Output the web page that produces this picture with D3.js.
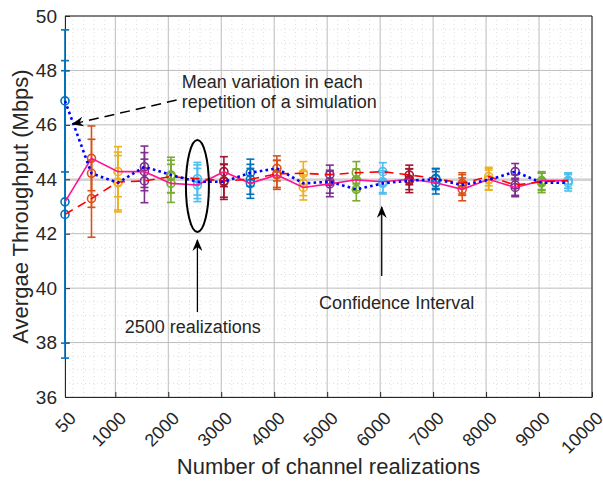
<!DOCTYPE html>
<html>
<head>
<meta charset="utf-8">
<script src="https://cdn.jsdelivr.net/npm/d3@7"></script>
<style>
  body { margin: 0; background: #fff; }
  svg { font-family: "Liberation Sans", Arial, Helvetica, sans-serif; }
</style>
</head>
<body>
<script>
// x positions (number of channel realizations)
const realizations = [50, 550, 1050, 1550, 2050, 2550, 3050, 3550, 4050, 4550, 5050, 5550, 6050, 6550, 7050, 7550, 8050, 8550, 9050, 9550];
// mean throughput of each repetition
const pinkMean = [43.17, 44.77, 44.28, 44.28, 43.85, 43.79, 44.28, 43.85, 44.16, 43.70, 43.83, 43.98, 43.91, 44.00, 43.87, 43.63, 44.00, 43.70, 43.95, 43.95];
const redMean  = [42.71, 43.29, 43.90, 43.94, 44.10, 44.02, 43.94, 44.00, 44.20, 44.22, 44.17, 44.24, 44.28, 44.16, 44.03, 43.85, 44.10, 43.79, 43.91, 43.95];
const blueMean = [46.88, 44.22, 43.87, 44.46, 44.16, 43.91, 43.91, 44.24, 44.40, 43.85, 43.91, 43.63, 43.85, 43.95, 44.00, 43.79, 43.98, 44.28, 43.87, 43.87];
// confidence interval half widths
const pinkCI = [5.19, 1.19, 0.92, 0.70, 0.70, 0.61, 0.55, 0.55, 0.53, 0.46, 0.47, 0.40, 0.40, 0.38, 0.41, 0.42, 0.40, 0.34, 0.33, 0.29];
const redCI  = [5.28, 1.42, 1.10, 0.80, 0.60, 0.60, 0.60, 0.55, 0.50, 0.43, 0.35, 0.41, 0.33, 0.36, 0.37, 0.39, 0.34, 0.38, 0.32, 0.28];
const blueCI = [2.61, 1.25, 1.00, 0.76, 0.65, 0.62, 0.65, 0.50, 0.46, 0.45, 0.42, 0.42, 0.39, 0.44, 0.38, 0.38, 0.36, 0.30, 0.36, 0.30];
const overallMean = 43.98;

const xTicks = [50, 1000, 2000, 3000, 4000, 5000, 6000, 7000, 8000, 9000, 10000];
const yTicks = [36, 38, 40, 42, 44, 46, 48, 50];
const groupColors = ["#0072BD", "#D95319", "#EDB120", "#7E2F8E", "#77AC30", "#4DBEEE", "#A2142F"];

const margin = {top: 16, right: 11, bottom: 90, left: 65},
    W = 603, H = 487,
    width = W - margin.left - margin.right,
    height = H - margin.top - margin.bottom;
const ink = "#262626";

const x = d3.scaleLinear().domain([50, 10000]).range([0, width]);
const y = d3.scaleLinear().domain([36, 50]).range([height, 0]);

const svg = d3.select("body").append("svg")
    .attr("width", W).attr("height", H);

const defs = svg.append("defs");
defs.append("marker")
    .attr("id", "head")
    .attr("viewBox", "0 0 12 10")
    .attr("refX", 11).attr("refY", 5)
    .attr("markerWidth", 12).attr("markerHeight", 10)
    .attr("markerUnits", "userSpaceOnUse")
    .attr("orient", "auto")
    .append("path")
    .attr("d", "M0,0 L12,5 L0,10 L4,5 Z")
    .attr("fill", "#000");

const g = svg.append("g")
    .attr("transform", "translate(" + margin.left + "," + margin.top + ")");

// minor grid
const minorX = d3.range(200, 10000, 200).filter(v => v % 1000 != 0);
const minorY = d3.range(36.5, 50, 0.5).filter(v => v % 2 != 0);
g.append("g").selectAll("line").data(minorX).enter().append("line")
    .attr("x1", d => x(d)).attr("x2", d => x(d))
    .attr("y1", 0).attr("y2", height)
    .attr("stroke", "#d6d6d6").attr("stroke-width", 0.8).attr("stroke-dasharray", "1,3");
g.append("g").selectAll("line").data(minorY).enter().append("line")
    .attr("x1", 0).attr("x2", width)
    .attr("y1", d => y(d)).attr("y2", d => y(d))
    .attr("stroke", "#d6d6d6").attr("stroke-width", 0.8).attr("stroke-dasharray", "1,3");

// major grid
g.append("g").selectAll("line").data(xTicks).enter().append("line")
    .attr("x1", d => x(d)).attr("x2", d => x(d))
    .attr("y1", 0).attr("y2", height)
    .attr("stroke", "#bcbcbc").attr("stroke-width", 1);
g.append("g").selectAll("line").data(yTicks).enter().append("line")
    .attr("x1", 0).attr("x2", width)
    .attr("y1", d => y(d)).attr("y2", d => y(d))
    .attr("stroke", "#bcbcbc").attr("stroke-width", 1);

// overall mean reference
g.append("line")
    .attr("x1", 0).attr("x2", width)
    .attr("y1", y(overallMean)).attr("y2", y(overallMean))
    .attr("stroke", "#d2d2d2").attr("stroke-width", 2.5);

// axes
const xAxis = d3.axisBottom(x).tickValues(xTicks).tickSize(-5).tickSizeOuter(0).tickFormat(d3.format("d"));
const yAxis = d3.axisLeft(y).tickValues(yTicks).tickSize(-5).tickSizeOuter(0);
const gx = g.append("g").attr("transform", "translate(0," + height + ")").call(xAxis);
const gy = g.append("g").call(yAxis);
gy.selectAll("text").attr("x", -8);
[gx, gy].forEach(a => {
    a.select(".domain").attr("stroke", ink);
    a.selectAll(".tick line").attr("stroke", ink);
    a.selectAll("text").attr("fill", ink).style("font-size", "19px");
});
gx.selectAll("text")
    .attr("text-anchor", "end")
    .attr("y", 0)
    .attr("transform", "translate(7,18) rotate(-45)")
    .attr("dy", "0.35em")
    .style("font-size", "18px");
// box top/right
g.append("line").attr("x1", 0).attr("x2", width).attr("y1", 0).attr("y2", 0).attr("stroke", ink);
g.append("line").attr("x1", width).attr("x2", width).attr("y1", 0).attr("y2", height).attr("stroke", ink);

// error bars
const series = [
    {mean: pinkMean, ci: pinkCI},
    {mean: redMean, ci: redCI},
    {mean: blueMean, ci: blueCI}
];
const bars = [];
series.forEach(s => realizations.forEach((r, i) => bars.push({
    r: r, m: s.mean[i], h: s.ci[i], color: groupColors[i % groupColors.length]
})));
const eb = g.append("g").selectAll("g").data(bars).enter().append("g")
    .attr("stroke", d => d.color).attr("stroke-width", 1.6).attr("fill", "none");
eb.append("line")
    .attr("x1", d => x(d.r)).attr("x2", d => x(d.r))
    .attr("y1", d => y(d.m - d.h)).attr("y2", d => y(d.m + d.h));
eb.append("line")
    .attr("x1", d => x(d.r) - 4).attr("x2", d => x(d.r) + 4)
    .attr("y1", d => y(d.m + d.h)).attr("y2", d => y(d.m + d.h));
eb.append("line")
    .attr("x1", d => x(d.r) - 4).attr("x2", d => x(d.r) + 4)
    .attr("y1", d => y(d.m - d.h)).attr("y2", d => y(d.m - d.h));
eb.append("circle")
    .attr("cx", d => x(d.r)).attr("cy", d => y(d.m)).attr("r", 4);

// mean lines
const line = d3.line().x((d, i) => x(realizations[i])).y(d => y(d));
g.append("path").datum(pinkMean).attr("d", line)
    .attr("fill", "none").attr("stroke", "#ff1493").attr("stroke-width", 1.6);
g.append("path").datum(redMean).attr("d", line)
    .attr("fill", "none").attr("stroke", "#ff0000").attr("stroke-width", 1.6)
    .attr("stroke-dasharray", "9,6");
g.append("path").datum(blueMean).attr("d", line)
    .attr("fill", "none").attr("stroke", "#0000ff").attr("stroke-width", 2.6)
    .attr("stroke-dasharray", "2.6,3.2");

// annotations (data coordinates)
const meanArrow = [[2158, 46.91], [194, 46.03]];
const meanText = {x: 2253, y: [47.35, 46.62], lines: ["Mean variation in each", "repetition of a simulation"]};
const ellipse = {x: 2550, y: 43.75, rx: 217, ry: 1.69};
const realArrow = [[2550, 39.12], [2550, 41.77]];
const realText = {x: 1178, y: 38.35, text: "2500 realizations"};
const ciArrow = [[6030, 40.45], [6030, 42.98]];
const ciText = {x: 4847, y: 39.23, text: "Confidence Interval"};

const ann = g.append("g").style("font-size", "18px").attr("fill", ink);
ann.append("line")
    .attr("x1", x(meanArrow[0][0])).attr("y1", y(meanArrow[0][1]))
    .attr("x2", x(meanArrow[1][0])).attr("y2", y(meanArrow[1][1]))
    .attr("stroke", "#000").attr("stroke-width", 1.5).attr("stroke-dasharray", "10,6")
    .attr("marker-end", "url(#head)");
meanText.lines.forEach((t, i) => ann.append("text")
    .attr("x", x(meanText.x)).attr("y", y(meanText.y[i])).text(t));
ann.append("ellipse")
    .attr("cx", x(ellipse.x)).attr("cy", y(ellipse.y))
    .attr("rx", x(ellipse.x + ellipse.rx) - x(ellipse.x))
    .attr("ry", y(ellipse.y - ellipse.ry) - y(ellipse.y))
    .attr("fill", "none").attr("stroke", "#000").attr("stroke-width", 2);
[realArrow, ciArrow].forEach(a => ann.append("line")
    .attr("x1", x(a[0][0])).attr("y1", y(a[0][1]))
    .attr("x2", x(a[1][0])).attr("y2", y(a[1][1]))
    .attr("stroke", "#000").attr("stroke-width", 1.3)
    .attr("marker-end", "url(#head)"));
[realText, ciText].forEach(t => ann.append("text")
    .attr("x", x(t.x)).attr("y", y(t.y)).text(t.text));

// axis labels
svg.append("text")
    .attr("x", margin.left + width / 2).attr("y", 474)
    .attr("text-anchor", "middle").attr("fill", ink).style("font-size", "22px")
    .text("Number of channel realizations");
svg.append("text")
    .attr("transform", "translate(28," + (margin.top + height / 2) + ") rotate(-90)")
    .attr("text-anchor", "middle").attr("fill", ink).style("font-size", "22px")
    .text("Avergae Throughput (Mbps)");
</script>
</body>
</html>
